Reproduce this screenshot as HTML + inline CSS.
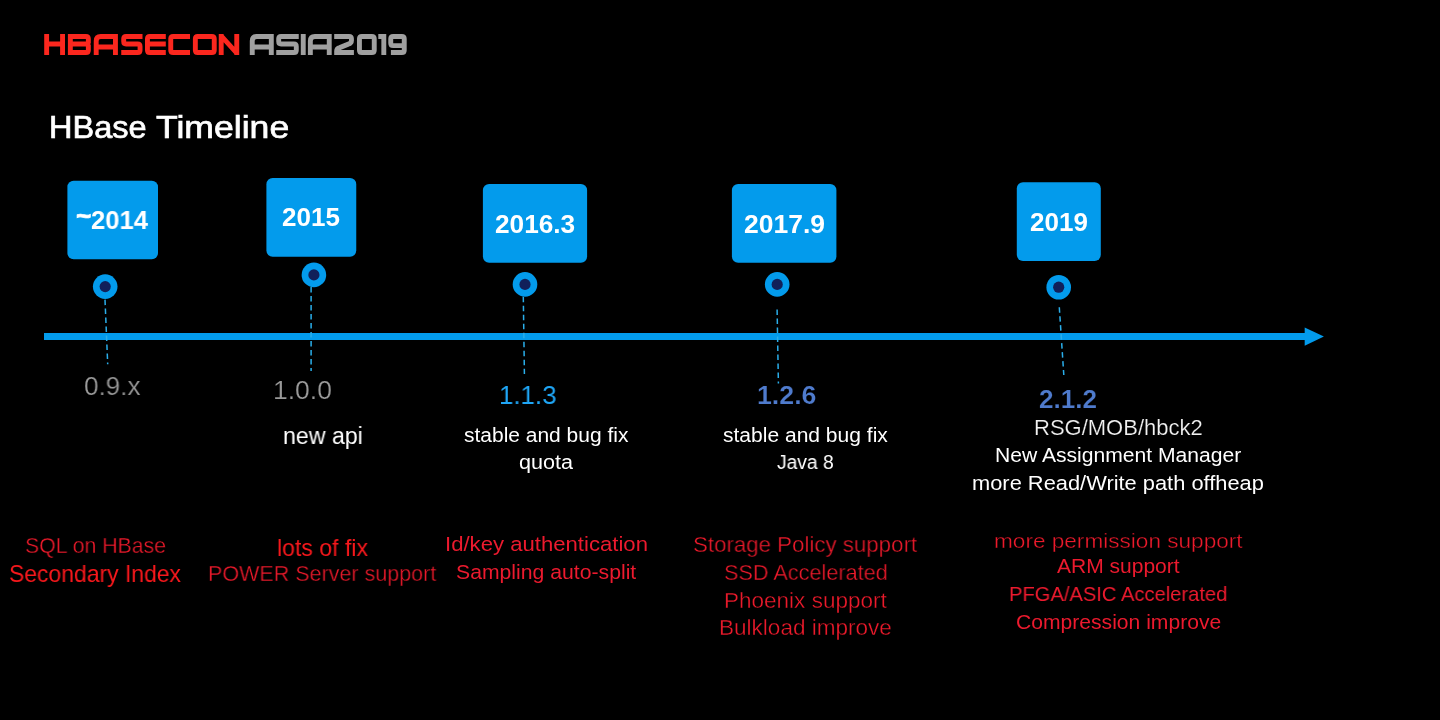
<!DOCTYPE html>
<html><head><meta charset="utf-8"><title>HBase Timeline</title>
<style>
html,body{margin:0;padding:0;background:#000}
body{width:1440px;height:720px;overflow:hidden;position:relative;font-family:"Liberation Sans",sans-serif}
.t{position:absolute;white-space:pre;transform-origin:0 0;line-height:1;will-change:transform}
.thin{-webkit-text-stroke:0.35px #000}
.fat{-webkit-text-stroke:0.7px #fff}
.thin2{-webkit-text-stroke:0.2px #000}
svg{position:absolute;left:0;top:0}
</style></head>
<body>
<svg width="1440" height="720" viewBox="0 0 1440 720">
<rect x="44" y="333" width="1262" height="7" fill="#039bec"/>
<polygon points="1304.7,327.4 1323.9,336.6 1304.7,345.7" fill="#039bec"/>
<line x1="105.0" y1="299.6" x2="107.7" y2="364.2" stroke="#2aaeea" stroke-width="1.5" stroke-dasharray="5.5 3.5"/>
<line x1="311.1" y1="287.0" x2="311.1" y2="371.0" stroke="#2aaeea" stroke-width="1.5" stroke-dasharray="5.5 3.5"/>
<line x1="523.3" y1="296.8" x2="524.4" y2="373.9" stroke="#2aaeea" stroke-width="1.5" stroke-dasharray="5.5 3.5"/>
<line x1="777.1" y1="309.4" x2="778.4" y2="383.4" stroke="#2aaeea" stroke-width="1.5" stroke-dasharray="5.5 3.5"/>
<line x1="1059.3" y1="307.2" x2="1063.8" y2="375.0" stroke="#2aaeea" stroke-width="1.5" stroke-dasharray="5.5 3.5"/>
<rect x="67.4" y="180.8" width="90.60" height="78.40" rx="6.2" fill="#039bec"/>
<rect x="266.4" y="178.0" width="89.85" height="78.80" rx="6.2" fill="#039bec"/>
<rect x="482.9" y="183.9" width="104.20" height="78.90" rx="6.2" fill="#039bec"/>
<rect x="731.9" y="183.9" width="104.50" height="78.90" rx="6.2" fill="#039bec"/>
<rect x="1016.8" y="182.2" width="84.00" height="78.80" rx="6.2" fill="#039bec"/>
<circle cx="105.2" cy="286.6" r="12.3" fill="#039bec"/><circle cx="105.2" cy="286.6" r="5.6" fill="#11205a"/>
<circle cx="313.9" cy="274.9" r="12.3" fill="#039bec"/><circle cx="313.9" cy="274.9" r="5.6" fill="#11205a"/>
<circle cx="525.0" cy="284.4" r="12.3" fill="#039bec"/><circle cx="525.0" cy="284.4" r="5.6" fill="#11205a"/>
<circle cx="777.2" cy="284.4" r="12.3" fill="#039bec"/><circle cx="777.2" cy="284.4" r="5.6" fill="#11205a"/>
<circle cx="1058.7" cy="287.2" r="12.3" fill="#039bec"/><circle cx="1058.7" cy="287.2" r="5.6" fill="#11205a"/>
<path d="M46.65,34V55M62.55,34V55M46.65,44H62.55 M70.35,34V55M70.35,36.45H85.95Q88.35,36.45 88.35,38.85V42.2L86.75,44L88.35,45.8V50.15Q88.35,52.55 85.95,52.55H70.35M70.35,44H86.75 M96.2,55V40.95Q96.2,36.45 100.7,36.45H115.45V55M96.2,47H115.45 M142.5,36.45H126.1Q123.7,36.45 123.7,38.85V41.6Q123.7,44 126.1,44H137.65Q140.05,44 140.05,46.4V50.15Q140.05,52.55 137.65,52.55H121.25 M165.8,36.45H149.85Q147.45,36.45 147.45,38.85V50.15Q147.45,52.55 149.85,52.55H165.8M147.45,44H165.8 M190,36.45H173.15Q170.75,36.45 170.75,38.85V50.15Q170.75,52.55 173.15,52.55H190 M197.75,36.45H211.85Q214.25,36.45 214.25,38.85V50.15Q214.25,52.55 211.85,52.55H197.75Q195.35,52.55 195.35,50.15V38.85Q195.35,36.45 197.75,36.45Z M221.2,55V34M236.75,34V55M221.2,35.95L236.75,53.05" fill="none" stroke="#fb271e" stroke-width="4.9" stroke-linejoin="miter"/>
<path d="M252.25,55V40.95Q252.25,36.45 256.75,36.45H271.3V55M252.25,47H271.3 M298.75,36.45H281.1Q278.7,36.45 278.7,38.85V41.6Q278.7,44 281.1,44H293.9Q296.3,44 296.3,46.4V50.15Q296.3,52.55 293.9,52.55H276.25 M303.25,34V55 M310.35,55V40.95Q310.35,36.45 314.85,36.45H329.25V55M310.35,47H329.25 M334.2,36.45H349.05Q351.45,36.45 351.45,38.85V40.6Q351.45,43.4 348.25,44.2L339.85,47.6Q336.65,48.4 336.65,51V52.55H353.9 M361.85,36.45H371.85Q374.25,36.45 374.25,38.85V50.15Q374.25,52.55 371.85,52.55H361.85Q359.45,52.55 359.45,50.15V38.85Q359.45,36.45 361.85,36.45Z M378.3,36.45H383.8V55 M404.25,45.6H393.15Q390.75,45.6 390.75,43.2V38.85Q390.75,36.45 393.15,36.45H401.85Q404.25,36.45 404.25,38.85V50.15Q404.25,52.55 401.85,52.55H390.9" fill="none" stroke="#a0a0a0" stroke-width="4.9" stroke-linejoin="miter"/>
</svg>
<span class="t fat" style="left:49.40px;top:111.20px;font-size:32px;color:#ffffff;transform:scaleX(1.0156)">HBase</span>
<span class="t fat" style="left:156.29px;top:111.20px;font-size:32px;color:#ffffff;transform:scaleX(1.1124)">Timeline</span>
<span class="t fat" style="left:75.85px;top:201.50px;font-size:28px;color:#ffffff;font-weight:700;transform:scaleX(0.9384)">~</span>
<span class="t" style="left:91.13px;top:206.95px;font-size:26px;color:#ffffff;font-weight:700;transform:scaleX(0.9835)">2014</span>
<span class="t" style="left:281.82px;top:204.20px;font-size:26px;color:#ffffff;font-weight:700;transform:scaleX(0.9979)">2015</span>
<span class="t" style="left:495.01px;top:211.00px;font-size:26px;color:#ffffff;font-weight:700;transform:scaleX(1.0085)">2016.3</span>
<span class="t" style="left:743.91px;top:211.00px;font-size:26px;color:#ffffff;font-weight:700;transform:scaleX(1.0188)">2017.9</span>
<span class="t" style="left:1029.92px;top:209.00px;font-size:26px;color:#ffffff;font-weight:700;transform:scaleX(1.0007)">2019</span>
<span class="t thin2" style="left:84.16px;top:373.38px;font-size:26.5px;color:#999999;transform:scaleX(0.9836)">0.9.x</span>
<span class="t thin2" style="left:273.05px;top:377.38px;font-size:26.5px;color:#999999;transform:scaleX(0.9968)">1.0.0</span>
<span class="t" style="left:498.69px;top:382.18px;font-size:26.5px;color:#1fa6f6;transform:scaleX(0.9765)">1.1.3</span>
<span class="t thin2" style="left:756.60px;top:381.60px;font-size:26px;color:#4f7bcd;font-weight:700;transform:scaleX(1.0274)">1.2.6</span>
<span class="t thin2" style="left:1038.82px;top:385.60px;font-size:26px;color:#4f7bcd;font-weight:700;transform:scaleX(1.0043)">2.1.2</span>
<span class="t" style="left:283.08px;top:424.62px;font-size:23.5px;color:#ffffff;transform:scaleX(0.9848)">new api</span>
<span class="t" style="left:464.07px;top:424.70px;font-size:20px;color:#ffffff;transform:scaleX(1.0487)">stable and bug fix</span>
<span class="t" style="left:518.84px;top:451.70px;font-size:20px;color:#ffffff;transform:scaleX(1.0789)">quota</span>
<span class="t" style="left:723.17px;top:424.70px;font-size:20px;color:#ffffff;transform:scaleX(1.0513)">stable and bug fix</span>
<span class="t" style="left:777.11px;top:451.70px;font-size:20px;color:#ffffff;transform:scaleX(0.9635)">Java 8</span>
<span class="t thin2" style="left:1033.64px;top:418.39px;font-size:21.3px;color:#f2f2f2;transform:scaleX(1.0330)">RSG/MOB/hbck2</span>
<span class="t" style="left:995.11px;top:445.38px;font-size:20.5px;color:#ffffff;transform:scaleX(1.0291)">New Assignment Manager</span>
<span class="t" style="left:972.27px;top:472.68px;font-size:20.5px;color:#ffffff;transform:scaleX(1.0658)">more Read/Write path offheap</span>
<span class="t thin" style="left:25.24px;top:534.67px;font-size:22.5px;color:#ea1a2b;transform:scaleX(0.9446)">SQL on HBase</span>
<span class="t" style="left:9.15px;top:561.60px;font-size:24px;color:#f8181c;transform:scaleX(0.9549)">Secondary Index</span>
<span class="t" style="left:277.19px;top:536.10px;font-size:24px;color:#f8181c;transform:scaleX(0.9607)">lots of fix</span>
<span class="t thin" style="left:208.28px;top:563.38px;font-size:22.5px;color:#ea1a2b;transform:scaleX(0.9560)">POWER Server support</span>
<span class="t" style="left:444.71px;top:534.48px;font-size:20.5px;color:#ec1a2e;transform:scaleX(1.0794)">Id/key authentication</span>
<span class="t" style="left:455.64px;top:562.48px;font-size:20.5px;color:#ec1a2e;transform:scaleX(1.0339)">Sampling auto-split</span>
<span class="t thin" style="left:693.09px;top:534.17px;font-size:22.5px;color:#ea1a2b;transform:scaleX(0.9902)">Storage Policy support</span>
<span class="t thin" style="left:723.72px;top:562.27px;font-size:22.5px;color:#ea1a2b;transform:scaleX(0.9630)">SSD Accelerated</span>
<span class="t thin" style="left:723.70px;top:589.67px;font-size:22.5px;color:#ea1a2b;transform:scaleX(1.0009)">Phoenix support</span>
<span class="t thin" style="left:719.00px;top:617.48px;font-size:22.5px;color:#ea1a2b;transform:scaleX(1.0019)">Bulkload improve</span>
<span class="t thin" style="left:994.02px;top:529.95px;font-size:21px;color:#ea1a2b;transform:scaleX(1.0757)">more permission support</span>
<span class="t" style="left:1057.40px;top:555.35px;font-size:21px;color:#ec1a2e;transform:scaleX(1.0006)">ARM support</span>
<span class="t" style="left:1009.09px;top:583.35px;font-size:21px;color:#ec1a2e;transform:scaleX(0.9591)">PFGA/ASIC Accelerated</span>
<span class="t" style="left:1015.84px;top:611.35px;font-size:21px;color:#ec1a2e;transform:scaleX(1.0048)">Compression improve</span>
</body></html>
